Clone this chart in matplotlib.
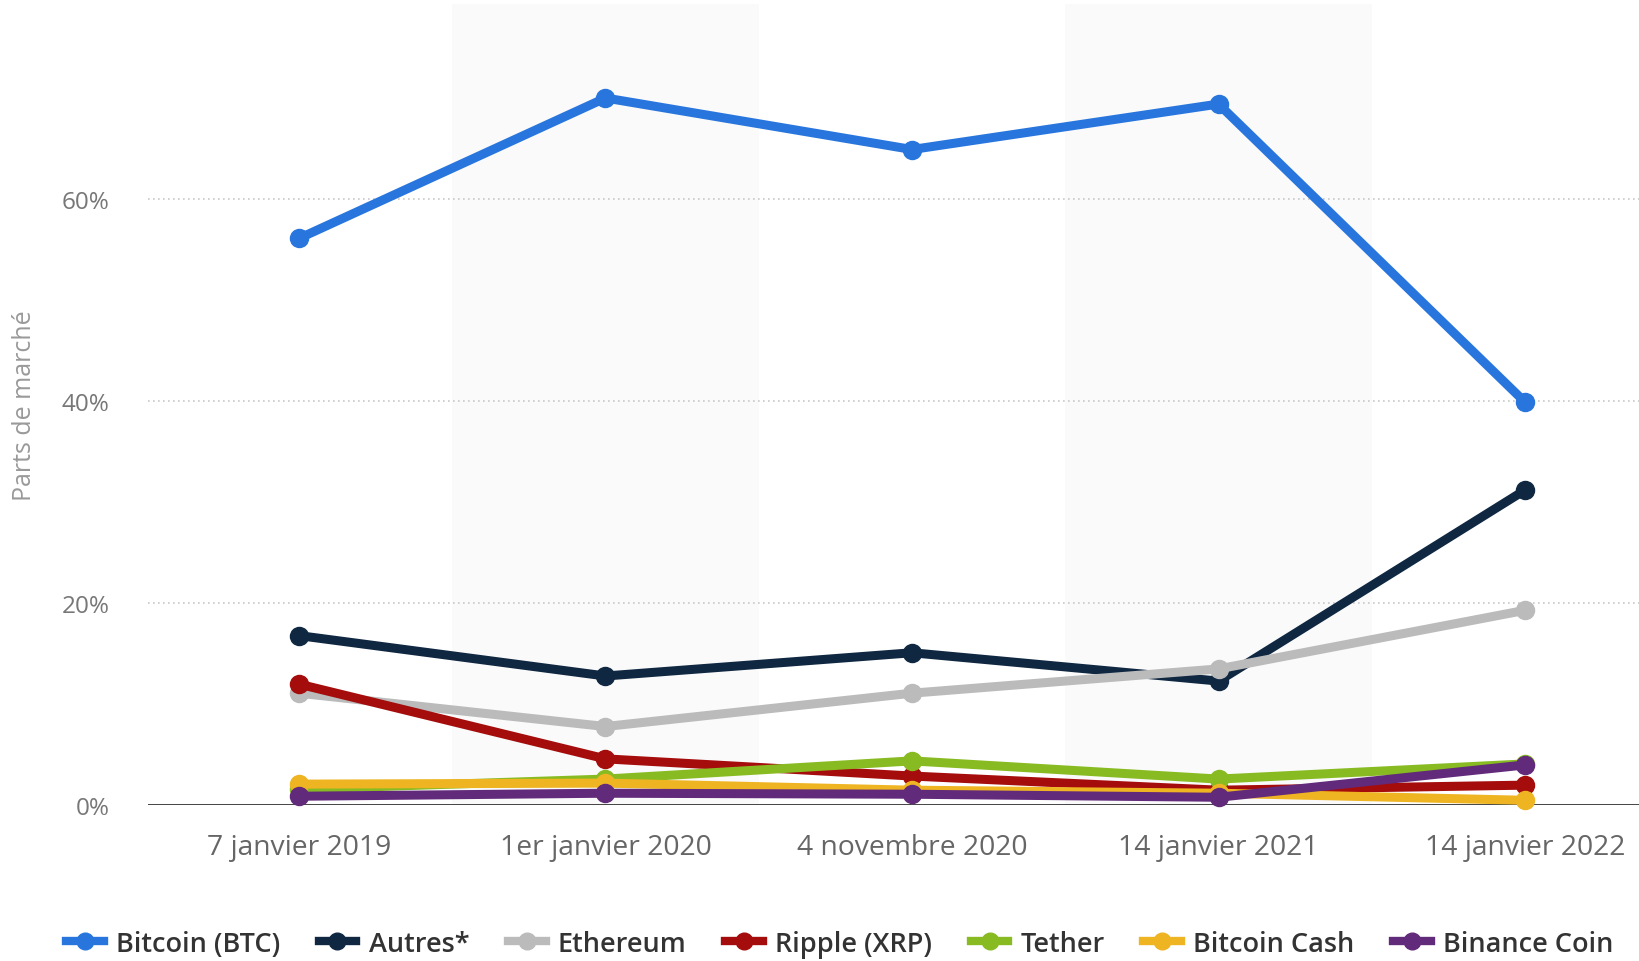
import numpy as np
import matplotlib.pyplot as plt
from matplotlib.lines import Line2D

plt.rcParams['font.family'] = ['Open Sans', 'DejaVu Sans']

dates = ["7 janvier 2019", "1er janvier 2020", "4 novembre 2020",
         "14 janvier 2021", "14 janvier 2022"]

bitcoin      = [56.1, 70.0, 64.9, 69.4, 39.9]
autres       = [16.8, 12.8, 15.1, 12.3, 31.2]
ethereum     = [11.1, 7.8, 11.1, 13.5, 19.3]
ripple       = [12.0, 4.6, 2.9, 1.5, 2.0]
tether       = [1.6, 2.6, 4.4, 2.6, 4.1]
bitcoin_cash = [2.1, 2.2, 1.5, 1.2, 0.5]
binance      = [0.9, 1.2, 1.1, 0.8, 4.0]

series = [
    ("Bitcoin (BTC)", bitcoin, "#2876dd"),
    ("Autres*", autres, "#0f2741"),
    ("Ethereum", ethereum, "#bbbbbb"),
    ("Ripple (XRP)", ripple, "#a50c0c"),
    ("Tether", tether, "#88bb22"),
    ("Bitcoin Cash", bitcoin_cash, "#eeb422"),
    ("Binance Coin", binance, "#622a7a"),
]

fig = plt.figure(figsize=(16.4, 9.62), dpi=100)
ax = fig.add_axes([0.0905, 0.1618, 0.9095, 0.833])

x = np.arange(len(dates))

# alternating bands
for b in (1, 3):
    ax.axvspan(b - 0.5, b + 0.5, color="#fafafa", zorder=0, lw=0)

for yv in (20, 40, 60):
    ax.axhline(yv, color="#c8c8c8", lw=1.2, ls=(0, (1, 2)), zorder=1)
ax.axhline(0, color="#333333", lw=2, zorder=2)

handles = []
for i, (name, vals, col) in enumerate(series):
    ax.plot(x, vals, color=col, lw=6.5, marker="o", ms=13,
            solid_capstyle="round", clip_on=False, zorder=3 + i)
    handles.append(Line2D([0], [0], color=col, lw=6, marker="o", ms=12))

ax.set_xlim(-0.491, 4.375)
ax.set_ylim(0, 79.3)
ax.set_xticks(x)
ax.set_xticklabels(dates)
ax.set_yticks([0, 20, 40, 60])
ax.set_yticklabels(["0%", "20%", "40%", "60%"])
ax.tick_params(axis="x", length=0, labelsize=20.3, labelcolor="#666666", pad=20)
ax.tick_params(axis="y", length=0, labelsize=17.5, labelcolor="#777777", pad=28)
for s in ax.spines.values():
    s.set_visible(False)

ax.set_ylabel("Parts de marché", fontsize=18, color="#999999", labelpad=18)

fig.legend(handles, [s[0] for s in series], loc="lower center",
           bbox_to_anchor=(0.512, -0.022), ncol=7, frameon=False,
           handlelength=1.4, handletextpad=0.45, columnspacing=1.42,
           prop={"size": 19.5, "weight": "semibold"}, labelcolor="#333333")

fig.savefig("out.png", dpi=100)
